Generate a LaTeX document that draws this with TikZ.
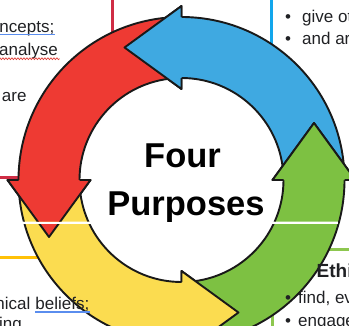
\documentclass[tikz,border=0pt]{standalone}
\usepackage{fontspec}
\setmainfont{Liberation Sans}
\usetikzlibrary{calc,decorations.pathmorphing}
\definecolor{arRed}{HTML}{EE3A33}
\definecolor{arBlue}{HTML}{3FA9E1}
\definecolor{arGreen}{HTML}{7DC142}
\definecolor{arYellow}{HTML}{FBDC50}
\definecolor{pRed}{HTML}{CF2D45}
\definecolor{pBlue}{HTML}{12A6EC}
\definecolor{pYellow}{HTML}{FFC107}
\definecolor{pGreen}{HTML}{8DC74F}
\definecolor{txt}{HTML}{202124}
\definecolor{ulBlue}{HTML}{5A8DEE}
\definecolor{ulRed}{HTML}{E0403A}
\tikzset{
  ringline/.style={draw=black!90, line width=1.9pt, line join=round},
  bodytext/.style={font=\fontsize{17}{20}\selectfont, text=txt, inner sep=0pt},
  headtext/.style={font=\fontsize{19}{22}\selectfont\bfseries, text=txt, inner sep=0pt},
  titletext/.style={font=\fontsize{34.5}{40}\selectfont\bfseries, text=black, inner sep=0pt, anchor=base},
  panel/.style={line width=3pt},
}
% #1 colour, #2 start angle, #3 base angle of the head
\newcommand\ringarrow[3]{%
  \filldraw[ringline, fill=#1] ($(C)+(#2:163)$) arc[start angle=#2, end angle=#3, radius=163]
    -- ($(C)+(#3:174)$) -- ($(C)+(#3:132.5)+(#3-90:57)$) -- ($(C)+(#3:91)$)
    -- ($(C)+(#3:102)$) arc[start angle=#3, end angle=#2, radius=102] -- cycle;}
\newcommand\ringhead[2]{%
  \fill[#1] ($(C)+(#2:174)$) -- ($(C)+(#2:132.5)+(#2-90:57)$) -- ($(C)+(#2:91)$) -- cycle;
  \draw[ringline] ($(C)+(#2:163)$) -- ($(C)+(#2:174)$) -- ($(C)+(#2:132.5)+(#2-90:57)$)
    -- ($(C)+(#2:91)$) -- ($(C)+(#2:102)$);}
\newcommand\ringparts{%
  % panel borders (under the ring)
  \draw[panel, pRed] (112,-3) -- (112,177) -- (-3,177);
  \draw[panel, pBlue] (271,-3) -- (271,177);
  \draw[panel, pYellow] (-3,285) -- (111,285) -- (111,360);
  \draw[panel, pGreen] (352,277) -- (272,277) -- (272,360);
  \fill[white] (C) circle[radius=102];
  \ringarrow{arBlue}{-4}{-90}
  \ringarrow{arRed}{-94}{-180}
  \ringarrow{arYellow}{-184}{-270}
  \ringarrow{arGreen}{-274}{-360}
  \ringhead{arBlue}{-90}
  \ringhead{arRed}{-180}
  \ringhead{arYellow}{-270}
  \ringhead{arGreen}{-360}
}
\begin{document}
\begin{tikzpicture}[x=1pt, y=-1pt]
  \useasboundingbox (0,0) rectangle (349,325);
  \clip (0,0) rectangle (349,325);
  \coordinate (C) at (181.5,180);
  % upper part
  \begin{scope}
    \clip (-1,-1) -- (350,-1) -- (350,224) -- (338,224) -- (338,221.5) -- (-1,221.5) -- cycle;
    \ringparts
    \node[titletext] (four) at (182.5,167) {Four};
    \node[titletext] (purp) at (186,215) {Purposes};
  \end{scope}
  % lower part (shifted up)
  \begin{scope}
    \clip (-1,224) rectangle (350,330);
    \begin{scope}[yshift=28pt]
      \ringparts
    \end{scope}
  \end{scope}
  % top-left panel text
  \node[bodytext, anchor=base east] (t1) at (54.5,32) {ncepts;};
  \draw[ulBlue, line width=1.1pt] ($(t1.base west)+(0,2.5)$) -- ($(t1.base east)+(0,2.5)$);
  \node[bodytext, anchor=base east] (t2) at (58,55.5) {analyse};
  \draw[ulRed, line width=0.7pt, decorate, decoration={snake, amplitude=0.9pt, segment length=3pt}]
    ($(t2.base west)+(0,3.2)$) -- ($(t2.base east)+(1.5,3.2)$);
  \node[bodytext, anchor=base east] (t3) at (26.7,101) {are};
  % top-right panel text
  \node[bodytext, anchor=base] (b1) at (288,22) {•};
  \node[bodytext, anchor=base west] (r1) at (302,22) {give ot};
  \node[bodytext, anchor=base] (b2) at (288,44) {•};
  \node[bodytext, anchor=base west] (r2) at (302,44) {and ar};
  % bottom-left panel text
  \node[bodytext, anchor=base east] (l1) at (89.5,309) {beliefs;};
  \node[bodytext, anchor=base east] (l0) at ($(l1.base west)+(-4.7,0)$) {nical};
  \draw[ulBlue, line width=1.1pt] ($(l1.base west)+(0,3)$) -- ($(l1.base east)+(0,3)$);
  \node[bodytext, anchor=base east] (l2) at (22,329.5) {ing};
  % bottom-right panel text
  \node[headtext, anchor=base west] (g0) at (316.5,277) {Ethi};
  \node[bodytext, anchor=base] (b3) at (288,303) {•};
  \node[bodytext, anchor=base west] (g1) at (298,303) {find, ev};
  \node[bodytext, anchor=base] (b4) at (288,326) {•};
  \node[bodytext, anchor=base west] (g2) at (298,326) {engage};
\end{tikzpicture}
\end{document}
